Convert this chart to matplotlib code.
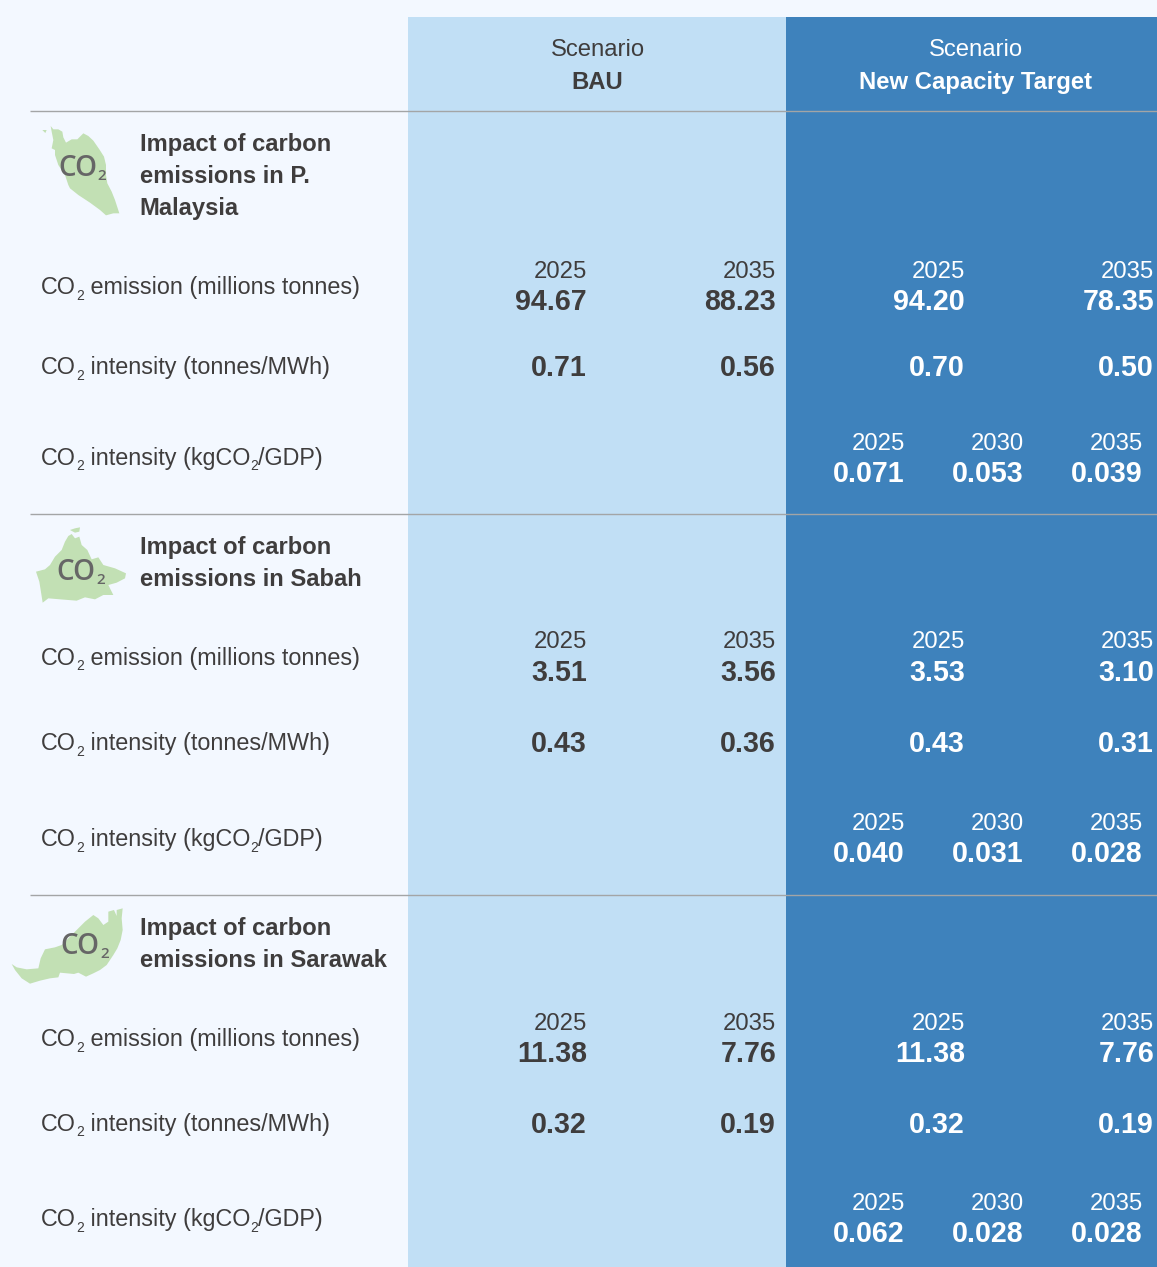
import matplotlib
matplotlib.use("Agg")
import matplotlib.pyplot as plt
from matplotlib.patches import Polygon, Rectangle

plt.rcParams['font.family'] = ['Liberation Sans', 'DejaVu Sans']

# colours
BG = '#F3F8FF'
LIGHT = '#C1DFF5'
DARK = '#3E82BC'
TXT = '#3F3D3D'
GREEN = '#C2E0B4'
LINE = '#A3A5A6'
CO2_GREY = '#666666'

# data
scenarios = ['BAU', 'New Capacity Target']
regions = ['P. Malaysia', 'Sabah', 'Sarawak']
titles = [['Impact of carbon', 'emissions in P.', 'Malaysia'],
          ['Impact of carbon', 'emissions in Sabah'],
          ['Impact of carbon', 'emissions in Sarawak']]
years_two = ['2025', '2035']
years_three = ['2025', '2030', '2035']

bau_emission = [['94.67', '88.23'], ['3.51', '3.56'], ['11.38', '7.76']]
bau_intensity = [['0.71', '0.56'], ['0.43', '0.36'], ['0.32', '0.19']]
target_emission = [['94.20', '78.35'], ['3.53', '3.10'], ['11.38', '7.76']]
target_intensity = [['0.70', '0.50'], ['0.43', '0.31'], ['0.32', '0.19']]
target_gdp = [['0.071', '0.053', '0.039'], ['0.040', '0.031', '0.028'], ['0.062', '0.028', '0.028']]

# map outlines
malaysia_shape = [(152, 78), (160, 88), (175, 88), (187, 95), (190, 112), (198, 128), (215, 118), (232, 118),
                  (250, 100), (265, 108), (280, 122), (298, 148), (312, 170), (318, 195), (318, 225),
                  (322, 250), (335, 275), (345, 300), (358, 340), (340, 340), (318, 346), (300, 330),
                  (270, 308), (235, 285), (210, 265), (205, 255), (195, 225), (175, 195), (165, 165),
                  (165, 150), (155, 145), (160, 120), (155, 95)]
malaysia_isle = [(127, 90), (140, 90), (136, 99)]
sabah_shape = [(205, 78), (215, 72), (225, 85), (238, 80), (245, 105), (262, 120), (275, 148), (295, 142),
               (310, 165), (345, 175), (378, 190), (375, 205), (350, 218), (325, 225), (340, 255),
               (310, 255), (285, 268), (255, 262), (230, 272), (180, 268), (145, 265), (128, 278),
               (122, 240), (118, 215), (108, 185), (135, 178), (150, 165), (165, 140), (185, 120), (195, 95)]
sabah_isle = [(210, 60), (225, 55), (240, 52), (238, 65), (225, 68)]
sarawak_shape = [(368, 55), (365, 85), (368, 120), (362, 150), (352, 175), (340, 195), (320, 225), (300, 240),
                 (280, 250), (258, 260), (235, 248), (222, 252), (180, 248), (175, 262), (150, 265),
                 (120, 272), (90, 281), (65, 265), (45, 240), (35, 222), (50, 232), (80, 238), (115, 235),
                 (122, 205), (135, 178), (165, 172), (185, 165), (205, 145), (230, 120), (255, 95), (280, 75),
                 (295, 85), (310, 105), (325, 95), (325, 65), (342, 60), (350, 78), (350, 60)]
map_shapes = [[malaysia_shape, malaysia_isle], [sabah_shape, sabah_isle], [sarawak_shape]]
map_origin = [(0, 100), (0, 510), (0, 890)]

# layout in pixels, one row per region
line_y = [111, 514, 895]
title_y = [[142, 174, 206], [545, 577], [926, 958]]
co2_pos = [(58, 165), (56, 569), (60, 943)]
sub_pos = [(97, 175), (96, 578), (100, 953)]
label_y = [[285, 365, 456], [656, 741, 837], [1037, 1122, 1217]]
year_y = [269, 640, 1021]
value_y = [299, 670, 1051]
inten_y = [365, 741, 1122]
gdp_year_y = [441, 821, 1201]
gdp_value_y = [471, 851, 1231]

bau_x = [587, 776]
target_x = [965, 1154]
gdp_x = [905, 1024, 1143]
gdp_left = [833, 952, 1071]

W, H = 1157, 1267
fig = plt.figure(figsize=(W / 100, H / 100), dpi=100, facecolor=BG)
ax = fig.add_axes([0, 0, 1, 1])
ax.set_xlim(0, W)
ax.set_ylim(H, 0)
ax.axis('off')

ax.add_patch(Rectangle((408, 17), 378, H - 17, color=LIGHT, lw=0))
ax.add_patch(Rectangle((786, 17), W - 786, H - 17, color=DARK, lw=0))


def txt(x, y, s, size=17.2, color=TXT, bold=False, ha='left', family=None, weight=None):
    return ax.text(x, y, s, fontsize=size, color=color, ha=ha, va='center_baseline',
                   fontweight=weight or ('bold' if bold else 'normal'), family=family)


def row_label(x, y, pieces):
    # normal text with small sunk 2s, placed piece by piece
    rend = fig.canvas.get_renderer()
    for s, sub in pieces:
        if sub:
            t = txt(x, y + 9, s, size=10)
        else:
            t = txt(x, y, s, size=16.8)
        x = ax.transData.inverted().transform(t.get_window_extent(rend).get_points())[1][0]


emission_label = [('CO', 0), ('2', 1), (' emission (millions tonnes)', 0)]
mwh_label = [('CO', 0), ('2', 1), (' intensity (tonnes/MWh)', 0)]
gdp_label = [('CO', 0), ('2', 1), (' intensity (kgCO', 0), ('2', 1), ('/GDP)', 0)]

# header
txt(597.5, 48, 'Scenario', ha='center')
txt(597.5, 80, scenarios[0], bold=True, ha='center')
txt(975.5, 48, 'Scenario', color='white', ha='center')
txt(975.5, 80, scenarios[1], color='white', bold=True, ha='center')

for i in range(len(regions)):
    ax.plot([30, W], [line_y[i], line_y[i]], color=LINE, lw=1, solid_capstyle='butt')

    ox, oy = map_origin[i]
    for shape in map_shapes[i]:
        pts = [(ox + px / 3, oy + py / 3) for px, py in shape]
        ax.add_patch(Polygon(pts, closed=True, color=GREEN, lw=0))
    cx, cy = co2_pos[i]
    txt(cx, cy, 'CO', size=20, color=CO2_GREY, family='Open Sans', weight='semibold')
    sx, sy = sub_pos[i]
    txt(sx, sy, '2', size=11, color=CO2_GREY, family='Open Sans', weight='semibold')

    for y, s in zip(title_y[i], titles[i]):
        txt(139.5, y, s, size=17.1, bold=True)

    row_label(41, label_y[i][0], emission_label)
    row_label(41, label_y[i][1], mwh_label)
    row_label(41, label_y[i][2], gdp_label)

    for k in range(2):
        txt(bau_x[k], year_y[i], years_two[k], ha='right')
        txt(bau_x[k], value_y[i], bau_emission[i][k], size=20.6, bold=True, ha='right')
        txt(bau_x[k], inten_y[i], bau_intensity[i][k], size=20.6, bold=True, ha='right')
        txt(target_x[k], year_y[i], years_two[k], color='white', ha='right')
        txt(target_x[k], value_y[i], target_emission[i][k], size=20.6, color='white', bold=True, ha='right')
        txt(target_x[k], inten_y[i], target_intensity[i][k], size=20.6, color='white', bold=True, ha='right')

    for k in range(3):
        txt(gdp_x[k], gdp_year_y[i], years_three[k], color='white', ha='right')
        txt(gdp_left[k], gdp_value_y[i], target_gdp[i][k], size=20.6, color='white', bold=True)

fig.savefig('out.png', dpi=100, facecolor=BG)
